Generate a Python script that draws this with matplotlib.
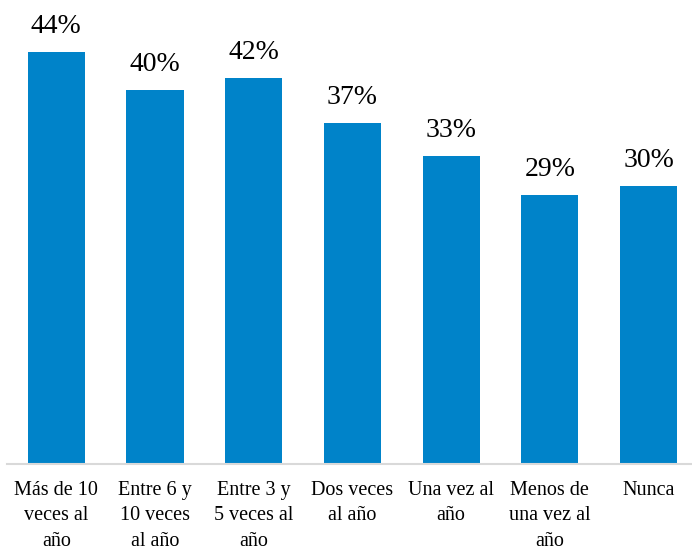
import matplotlib.pyplot as plt
import numpy as np

categorias = ["Más de 10\nveces al\naño", "Entre 6 y\n10 veces\nal año",
              "Entre 3 y\n5 veces al\naño", "Dos veces\nal año",
              "Una vez al\naño", "Menos de\nuna vez al\naño", "Nunca"]
valores = [44.4, 40.3, 41.6, 36.7, 33.2, 29.0, 30.0]

plt.rcParams['font.family'] = ['Liberation Serif', 'DejaVu Serif']

fig = plt.figure(figsize=(6.92, 5.52), dpi=100)
ax = fig.add_axes([7 / 692, 88 / 552, 685 / 692, 464 / 552])

x = np.arange(len(categorias))
bars = ax.bar(x, valores, width=0.58, color='#0083C9')

for xi, v in zip(x, valores):
    ax.text(xi, v + 1.4, f"{v:.0f}%", ha='center', va='bottom', fontsize=20)

ax.set_ylim(0, 50)
ax.set_xlim(-0.5, 6.44)
ax.set_yticks([])
ax.set_xticks(x)
ax.set_xticklabels(categorias, fontsize=14.5, linespacing=1.47, va='top')
ax.tick_params(axis='x', length=0, pad=12)

for s in ['top', 'right', 'left']:
    ax.spines[s].set_visible(False)
ax.spines['bottom'].set_color('#d9d9d9')
ax.spines['bottom'].set_linewidth(1.5)

fig.savefig('out.png', dpi=100)
